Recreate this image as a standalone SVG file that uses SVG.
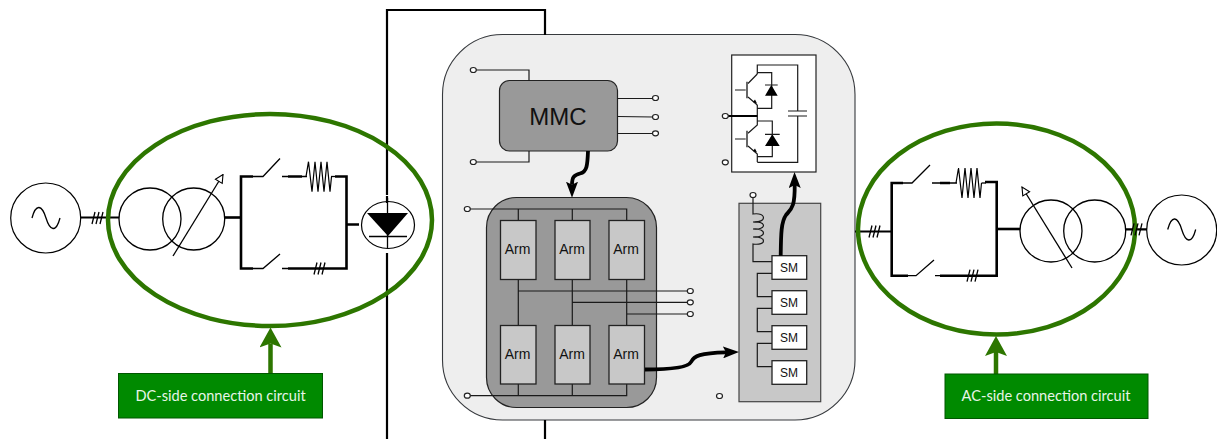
<svg xmlns="http://www.w3.org/2000/svg" width="1217" height="439" viewBox="0 0 1217 439">
<style>
.w{fill:none;stroke:#000;stroke-width:1.3}
.b{fill:none;stroke:#000;stroke-width:2.6}
.m{fill:none;stroke:#000;stroke-width:2.2}
.s{fill:none;stroke:#1a1a1a;stroke-width:1.2}
.t{fill:#fff;stroke:#222;stroke-width:1.2}
.g{fill:none;stroke:#2d7600;stroke-width:4.5}
.ga{fill:none;stroke:#2d7600;stroke-width:4.5}
.box{fill:#008a00;stroke:#005700;stroke-width:1}
.lbl{font-family:Lato,"Open Sans",sans-serif;font-size:14.6px;fill:#e8f5e8;text-anchor:middle}
.arm{fill:#c8c8c8;stroke:#222;stroke-width:1.3}
.sm{fill:#fff;stroke:#222;stroke-width:1.3}
.at{font-family:"Liberation Sans",Arial,sans-serif;font-size:14px;fill:#111;text-anchor:middle}
.st{font-family:"Liberation Sans",Arial,sans-serif;font-size:12px;fill:#111;text-anchor:middle}
.c{fill:#fff;stroke:#000;stroke-width:1.2}
.k{fill:#000;stroke:none}
.ar{fill:none;stroke:#000;stroke-width:3.8}
</style>
<defs>
<marker id="ah" markerUnits="userSpaceOnUse" markerWidth="16" markerHeight="12" viewBox="0 0 16 12" refX="3" refY="6" orient="auto"><path d="M0 0L16 6L0 12L3 6Z" fill="#000"/></marker>
<marker id="gh" markerUnits="userSpaceOnUse" markerWidth="20" markerHeight="22" viewBox="0 0 20 22" refX="4" refY="11" orient="auto"><path d="M0 0L20 11L0 22L4 11Z" fill="#2d7600"/></marker>
<marker id="ta" markerUnits="userSpaceOnUse" markerWidth="10" markerHeight="10" viewBox="0 0 10 10" refX="9" refY="5" orient="auto"><path d="M1 1L9 5L1 9Z" fill="#fff" stroke="#000" stroke-width="1.1"/></marker>
<path id="sine" d="M-14 0C-10 -15 -4 -13 0 0C4 13 10 15 14 0" fill="none" stroke="#000" stroke-width="1.3"/>
<path id="res" d="M-14 0L-11.500 -15L-8 15L-5 -15L-2 15L1 -15L4 15L7 -15L10 15L11.500 0" fill="none" stroke="#000" stroke-width="1.200"/>
<path id="tick" d="M-6 6L-3 -6M-2 6L1 -6M2 6L5 -6" fill="none" stroke="#000" stroke-width="1.300"/>
</defs>
<g id="main-panel"><rect x="442.500" y="34.500" width="412.500" height="385.500" rx="60" fill="#eee" stroke="#36393d" stroke-width="1.100"/></g>
<g id="ac-source-left">
<circle class="c" cx="45.700" cy="218" r="35"/><use href="#sine" x="46" y="218"/><use href="#tick" x="98" y="218"/>
</g>
<g id="dc-transformer">
<circle class="w" cx="150" cy="219" r="31"/><circle class="w" cx="193.700" cy="219" r="31"/>
<path class="w" d="M173 256L223 174.500" marker-end="url(#ta)"/>
</g>
<g id="dc-circuit">
<use href="#res" x="320" y="176.700"/>
<path class="w" d="M331 176.500H335"/>
<use href="#tick" x="320" y="268.500"/>
</g>
<g id="rectifier-diode">
<ellipse class="c" cx="388" cy="225" rx="26.500" ry="23.500"/>
<path class="k" d="M367 213H408L388 236Z"/>
<path class="w" d="M369 236.500H407"/>
<path class="w" d="M387.500 198V248"/>
</g>
<g id="mmc">
<rect x="499.500" y="80.500" width="118" height="70.500" rx="10" fill="#999" stroke="#222" stroke-width="1.200"/>
<text x="558" y="124.500" font-family="'Liberation Sans',Arial,sans-serif" font-size="24" fill="#111" text-anchor="middle">MMC</text>
<path class="s" d="M473 70H529V80.500M473 162H529V151M617.500 98.500H653M617.500 116.500L653 117M617.500 133.500H653"/>
<ellipse class="t" cx="473.300" cy="70" rx="3" ry="2.500"/><ellipse class="t" cx="473.300" cy="162" rx="3" ry="2.500"/>
<ellipse class="t" cx="655.500" cy="98" rx="3" ry="2.500"/><ellipse class="t" cx="655.500" cy="117" rx="3" ry="2.500"/><ellipse class="t" cx="655.500" cy="133.300" rx="3" ry="2.500"/>
</g>
<g id="arms">
<rect x="486.500" y="197.500" width="170" height="210" rx="30" fill="#999" stroke="#222" stroke-width="1.200"/>
<path class="s" d="M470 209H626.700V220.500M518.300 209V220.500M572.300 209V220.500M518.300 279.500V325.500M572.300 279.500V325.500M626.700 279.500V325.500M518.300 291H688M572.300 302.300H688M626.700 314H688M470 395.700H626.700V384M518.300 384V395.700M572.300 384V395.700"/>
<ellipse class="t" cx="467.300" cy="209" rx="3" ry="2.500"/><ellipse class="t" cx="467.300" cy="395.700" rx="3" ry="2.500"/>
<ellipse class="t" cx="690.300" cy="291" rx="3" ry="2.500"/><ellipse class="t" cx="690.300" cy="302.300" rx="3" ry="2.500"/><ellipse class="t" cx="690.300" cy="314" rx="3" ry="2.500"/>
<rect class="arm" x="500.500" y="220.500" width="35.500" height="59"/><text class="at" x="517.500" y="254">Arm</text>
<rect class="arm" x="555" y="220.500" width="35" height="59"/><text class="at" x="572" y="254">Arm</text>
<rect class="arm" x="609" y="220.500" width="35.500" height="59"/><text class="at" x="626" y="254">Arm</text>
<rect class="arm" x="500.500" y="325.500" width="35.500" height="58.500"/><text class="at" x="517.500" y="359">Arm</text>
<rect class="arm" x="555" y="325.500" width="35" height="58.500"/><text class="at" x="572" y="359">Arm</text>
<rect class="arm" x="609" y="325.500" width="35.500" height="58.500"/><text class="at" x="626" y="359">Arm</text>
</g>
<g id="terminal"><ellipse class="t" cx="719.500" cy="396" rx="3" ry="2.500"/></g>
<g id="arm-detail">
<rect x="739" y="203.300" width="81.700" height="198.400" fill="#c8c8c8" stroke="#444" stroke-width="1.200"/>
<path class="s" d="M753 197V214C767 212 767 223 753 222C767 221 767 230 753 229C767 228 767 238 753 237C767 236 767 246 753 244V261.700H772M772 273.300H757.300V296.700H772M772 308.300H757.300V331.700H772M772 343.300H757.300V366.700H772"/>
<ellipse class="t" cx="753" cy="195" rx="3" ry="2.500"/>
<rect class="sm" x="772" y="255.700" width="34.700" height="23.600"/><text class="st" x="789" y="271.700">SM</text>
<rect class="sm" x="772" y="290.700" width="34.700" height="23.600"/><text class="st" x="789" y="306.700">SM</text>
<rect class="sm" x="772" y="325.700" width="34.700" height="23.600"/><text class="st" x="789" y="341.700">SM</text>
<rect class="sm" x="772" y="360.700" width="34.700" height="23.600"/><text class="st" x="789" y="376.700">SM</text>
</g>
<g id="submodule">
<rect x="731.700" y="55" width="84.300" height="117" fill="#fff" stroke="#222" stroke-width="1.200"/>
<path class="s" d="M757.300 74V65H797.700V111M797.700 116V162.300H757.300M788 111H807M788 116H807"/>
<path class="s" d="M757.300 74L748 83.500M757.300 72.700H771.700V108.300H757.300M757.300 105V125L748 133.300M757.300 121H772.300V156.700H757.300"/>
<path class="m" d="M725 116H757.300"/>
<path class="s" d="M735 90H745.700M735 139H745.700M748 97L757.300 105M748 146L757.300 154V162"/>
<path d="M747 81.700V98.300M747 130.700V147.300" fill="none" stroke="#666" stroke-width="2"/>
<path class="k" d="M765 95.700H777.700L771.300 85ZM765 146H779.700L772.300 134.300Z"/>
<path class="s" d="M765 85H777.700M765 134.300H779.700"/>
<path class="k" d="M757 103.500L753 102L755 99.500ZM757 152.500L753 151L755 148.500Z"/>
<ellipse class="t" cx="725.300" cy="116" rx="3" ry="2.500"/><ellipse class="t" cx="725.300" cy="162.300" rx="3" ry="2.500"/>
</g>
<g id="ac-circuit">
<use href="#tick" x="875" y="231.500"/>
<use href="#res" x="970" y="183"/>
<path class="w" d="M981.500 183H986"/>
<use href="#tick" x="973" y="275.700"/>
</g>
<g id="ac-transformer">
<circle class="w" cx="1051" cy="231" r="31"/><circle class="w" cx="1094.700" cy="231" r="31"/>
<path class="w" d="M1072 268L1022 187" marker-end="url(#ta)"/>
</g>
<g id="ac-source-right">
<circle class="c" cx="1181.700" cy="230" r="35"/><use href="#sine" x="1181.700" y="229.500"/>
</g>
<g id="connectors">
<path class="m" d="M387 195V10H545V35M387 439V253M387 196V203M545 420V439"/>
<path class="m" d="M80 217.500H119"/>
<path class="m" d="M855 231.500H891.700M1125.700 229.300H1147"/>
<path class="b" d="M225 217.500H241"/>
<path class="b" d="M253 176.500H241V268.500H253M288 176.500H302M335 176.500H346.500V268.500H288M346.500 224.500H359"/>
<path class="w" d="M253 176.500H263L280 158.500M282 176.500H288M302 176.500H307M253 268.500H263L280 254M282 268.500H288"/>
<path class="b" d="M903 183H891.700V275.700H908M940 183H950M985 182H996.700V275.700H940"/>
<path class="w" d="M903 183H912L930 165M932 183H940M950 183H957M908 275.700H916L934 260M935 275.700H940"/>
<path class="b" d="M996.700 229H1020"/>
<path class="ar" d="M588 151C587.500 165 587 172 580 173.500C574 175 572 177 572 184.700" marker-end="url(#ah)"/>
<path class="ar" d="M645 369.500C665 369.500 688 368 691 362C694 356 700 353 726 352.300" marker-end="url(#ah)"/>
<path class="ar" d="M780.700 255.700C781 235 781 222 786 215C791 209 795 208 794.700 185" marker-end="url(#ah)"/>
<path class="ga" d="M270.500 373.500V343.500" marker-end="url(#gh)"/>
<path class="ga" d="M996 374V352" marker-end="url(#gh)"/>
</g>
<g id="dc-side">
<ellipse class="g" cx="270" cy="220" rx="162" ry="106"/>
<rect class="box" x="118.500" y="373.500" width="204" height="44.500"/>
<text class="lbl" x="220.500" y="400.800">DC-side connection circuit</text>
</g>
<g id="ac-side">
<ellipse class="g" cx="996.500" cy="229" rx="138.500" ry="105.500"/>
<rect class="box" x="945" y="374" width="203" height="44.500"/>
<text class="lbl" x="1046" y="400.800">AC-side connection circuit</text>
<use href="#tick" x="1137" y="229.300"/>
</g>
</svg>
